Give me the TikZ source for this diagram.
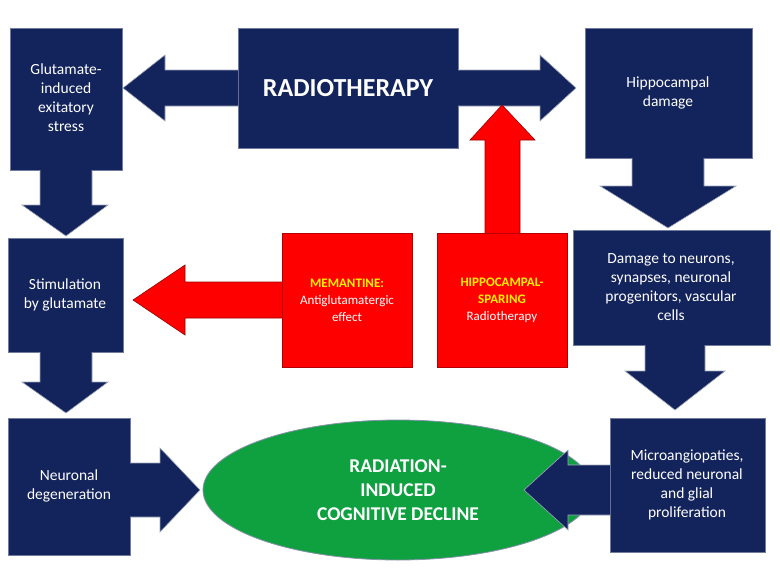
\documentclass[tikz,border=0pt]{standalone}
\usepackage{fontspec}
\setmainfont{Carlito}
\usetikzlibrary{positioning,shapes.geometric}
\definecolor{navy}{HTML}{13235B}
\definecolor{redbox}{HTML}{FF0000}
\definecolor{greenell}{HTML}{0FA040}
\definecolor{yel}{HTML}{FFF200}
\begin{document}
\begin{tikzpicture}[x=1pt,y=-1pt,
  box/.style={fill=navy,draw=navy!60},
  btext/.style={text=white,align=center,font=\fontsize{15.5}{19}\selectfont},
  rbox/.style={fill=redbox,draw=redbox!70!black},
  rtext/.style={align=center,font=\fontsize{13}{17}\selectfont},
  barrow/.style={fill=navy,draw=navy!40,line width=0.6pt},
  rarrow/.style={fill=redbox,draw=redbox!60!black,line width=0.6pt}]

\useasboundingbox (0,0) rectangle (780,570);

% outcome
\node[ellipse,fill=greenell,draw=navy!50,line width=0.8pt,minimum width=390,minimum height=140,
  text=white,align=center,font=\bfseries\fontsize{19.5}{24}\selectfont] (decline) at (398,490)
  {RADIATION-\\INDUCED\\COGNITIVE DECLINE};

% boxes
\path[box] (10,28) rectangle (122,170);
\node[btext] (glut) at (66,98) {Glutamate-\\induced\\exitatory\\stress};
\path[box] (238,28) rectangle (458,148);
\node[text=white,font=\bfseries\fontsize{26}{30}\selectfont] (radio) at (348,88) {RADIOTHERAPY};
\path[box] (585,28) rectangle (752,158);
\node[btext] (hippo) at (668,93) {Hippocampal\\damage};
\path[box] (8,238) rectangle (123,352);
\node[btext] (stim) at (65,295) {Stimulation\\by glutamate};
\path[box] (8,418) rectangle (130,555);
\node[btext] (degen) at (69,486) {Neuronal\\degeneration};
\path[box] (573,230) rectangle (770,345);
\node[btext] (neurons) at (671,287) {Damage to neurons,\\synapses, neuronal\\progenitors, vascular\\cells};
\path[box] (610,418) rectangle (765,552);
\node[btext] (micro) at (687,485) {Microangiopaties,\\reduced neuronal\\and glial\\proliferation};

% red boxes
\path[rbox] (282,233) rectangle (412,367);
\node[rtext] (meman) at (347,300) {\textcolor{yel}{\bfseries MEMANTINE:}\\\textcolor{white}{Antiglutamatergic}\\\textcolor{white}{effect}};
\path[rbox] (437,233) rectangle (567,367);
\node[rtext] (sparing) at (502,300) {\textcolor{yel}{\bfseries HIPPOCAMPAL-}\\\textcolor{yel}{\bfseries SPARING}\\\textcolor{white}{Radiotherapy}};

% block arrows
\path[barrow] (238,70) -- (165,70) -- (165,55) -- (123,88) -- (165,121) -- (165,106) -- (238,106);
\path[barrow] (458,70) -- (540,70) -- (540,55) -- (576,88) -- (540,121) -- (540,106) -- (458,106);
\path[barrow] (40,170) -- (40,205) -- (22,205) -- (66,236) -- (108,205) -- (92,205) -- (92,170);
\path[barrow] (40,352) -- (40,382) -- (22,382) -- (66,413) -- (108,382) -- (92,382) -- (92,352);
\path[barrow] (632,158) -- (632,186) -- (600,186) -- (668,228) -- (736,186) -- (704,186) -- (704,158);
\path[barrow] (645,345) -- (645,371) -- (625,371) -- (675,410) -- (725,371) -- (705,371) -- (705,345);
\path[barrow] (130,463) -- (160,463) -- (160,448) -- (200,490) -- (160,532) -- (160,517) -- (130,517);
\path[barrow] (610,465) -- (568,465) -- (568,450) -- (524,490) -- (568,530) -- (568,515) -- (610,515);
\path[rarrow] (282,282) -- (185,282) -- (185,265) -- (133,300) -- (185,335) -- (185,318) -- (282,318);
\path[rarrow] (485,233) -- (485,140) -- (470,140) -- (502,105) -- (535,140) -- (520,140) -- (520,233);
\end{tikzpicture}
\end{document}
